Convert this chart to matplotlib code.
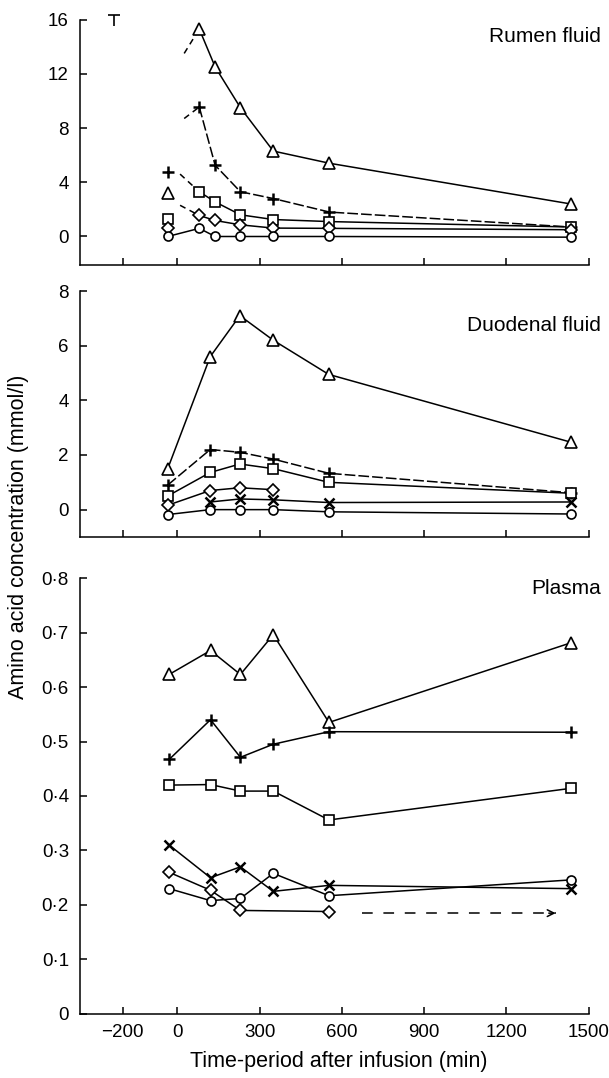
import matplotlib
matplotlib.use("Agg")
import matplotlib.pyplot as plt
from matplotlib.ticker import FuncFormatter

plt.rcParams["font.family"] = ["Liberation Sans", "DejaVu Sans"]
plt.rcParams["font.size"] = 13.5

# --- rumen fluid (mmol/l) ---
rumen_t = [-35, 80, 138, 230, 350, 555, 1435]
rumen_tri = [3.2, 15.3, 12.5, 9.5, 6.3, 5.4, 2.4]
rumen_plus = [4.75, 9.55, 5.25, 3.3, 2.8, 1.8, 0.7]
rumen_sq = [1.3, 3.3, 2.55, 1.6, 1.25, 1.1, 0.7]
rumen_dia = [0.64, 1.55, 1.18, 0.86, 0.62, 0.6, 0.5]
rumen_circ = [0.0, 0.6, 0.0, 0.0, 0.0, 0.0, -0.05]
# broken (dashed) lead-in to the 80 min point
rumen_lead_x = [25, 25, 10, 10]
rumen_lead_y = [13.5, 8.7, 4.6, 2.3]
# SE bar
se_x = -230
se_lo, se_hi = 15.5, 16.3

# --- duodenal fluid (mmol/l) ---
duo_t = [-35, 120, 228, 350, 552, 1435]
duo_tri = [1.5, 5.6, 7.1, 6.2, 4.95, 2.47]
duo_plus = [0.9, 2.2, 2.1, 1.85, 1.33, 0.62]
duo_sq = [0.5, 1.36, 1.67, 1.5, 1.0, 0.6]
duo_dia = [0.16, 0.7, 0.8, 0.73]
duo_x = [0.28, 0.39, 0.36, 0.26, 0.28]
duo_circ = [-0.18, 0.0, 0.0, 0.0, -0.08, -0.16]

# --- plasma (mmol/l) ---
pl_t = [-30, 121, 230, 350, 553, 1435]
pl_tri = [0.623, 0.667, 0.623, 0.696, 0.535, 0.681]
pl_plus = [0.467, 0.540, 0.471, 0.495, 0.518, 0.517]
pl_sq = [0.420, 0.421, 0.409, 0.409, 0.356, 0.414]
pl_x = [0.31, 0.25, 0.27, 0.225, 0.236, 0.23]
pl_dia_t = [-30, 121, 230, 553]
pl_dia = [0.26, 0.227, 0.19, 0.188]
pl_circ = [0.23, 0.208, 0.212, 0.258, 0.217, 0.246]
arrow_x = [675, 1380]
arrow_y = 0.185

mk = {
    "tri": dict(marker="^", ms=9),
    "plus": dict(marker="+", ms=9, mew=1.8),
    "sq": dict(marker="s", ms=6.5),
    "dia": dict(marker="D", ms=6.5),
    "circ": dict(marker="o", ms=6.5),
    "x": dict(marker="x", ms=7, mew=1.8),
}


def series(ax, t, y, kind, start=0, ls="-", dashes=None):
    # line (optionally from a later point on), then open markers on top
    line_kw = dict(color="black", lw=1.1, zorder=2)
    if dashes:
        line_kw["dashes"] = dashes
    ax.plot(t[start:], y[start:], ls=ls, **line_kw)
    ax.plot(t, y, ls="none", mfc="white", mec="black", color="black",
            mew=mk[kind].get("mew", 1.2), zorder=3,
            **{k: v for k, v in mk[kind].items() if k != "mew"})


fig = plt.figure(figsize=(6.09, 10.78), dpi=100)
left, width = 0.1314, 0.835
ax1 = fig.add_axes([left, 0.7542, width, 0.2277])
ax2 = fig.add_axes([left, 0.5019, width, 0.2281])
ax3 = fig.add_axes([left, 0.0594, width, 0.4044])

# rumen
series(ax1, rumen_t, rumen_tri, "tri", start=1)
series(ax1, rumen_t, rumen_plus, "plus", start=1, dashes=(7, 2))
series(ax1, rumen_t, rumen_sq, "sq", start=1)
series(ax1, rumen_t, rumen_dia, "dia", start=1)
series(ax1, rumen_t, rumen_circ, "circ")
for lx, ly, tgt in zip(rumen_lead_x, rumen_lead_y,
                       [rumen_tri, rumen_plus, rumen_sq, rumen_dia]):
    ax1.plot([lx, rumen_t[1]], [ly, tgt[1]], color="black", lw=1.1,
             dashes=(4, 3), zorder=1)
ax1.errorbar([se_x], [se_hi], yerr=[[se_hi - se_lo], [0]], fmt="none",
             ecolor="black", elinewidth=1.2, capsize=0, clip_on=False)
ax1.plot([se_x], [se_hi], marker="_", ms=8, mew=1.2, color="black",
         clip_on=False)
ax1.set_ylim(-2.1, 16)
ax1.set_yticks([0, 4, 8, 12, 16])
ax1.text(1.025, 0.93, "Rumen fluid", transform=ax1.transAxes, ha="right",
         va="center", fontsize=15)

# duodenal
series(ax2, duo_t, duo_tri, "tri")
series(ax2, duo_t, duo_plus, "plus", dashes=(7, 2))
series(ax2, duo_t, duo_sq, "sq")
series(ax2, duo_t[:4], duo_dia, "dia")
series(ax2, duo_t[1:], duo_x, "x")
series(ax2, duo_t, duo_circ, "circ")
ax2.set_ylim(-1.0, 8)
ax2.set_yticks([0, 2, 4, 6, 8])
ax2.text(1.025, 0.86, "Duodenal fluid", transform=ax2.transAxes, ha="right",
         va="center", fontsize=15)

# plasma
series(ax3, pl_t, pl_tri, "tri")
series(ax3, pl_t, pl_plus, "plus")
series(ax3, pl_t, pl_sq, "sq")
series(ax3, pl_t, pl_x, "x")
series(ax3, pl_dia_t, pl_dia, "dia")
series(ax3, pl_t, pl_circ, "circ")
ax3.plot(arrow_x, [arrow_y, arrow_y], color="black", lw=1.1, dashes=(7, 7))
ax3.annotate("", xy=(arrow_x[1], arrow_y), xytext=(arrow_x[1] - 25, arrow_y),
             arrowprops=dict(arrowstyle="->", lw=1.1, color="black",
                             shrinkA=0, shrinkB=0, mutation_scale=12))
ax3.set_ylim(0, 0.8)
ax3.set_yticks([0, 0.1, 0.2, 0.3, 0.4, 0.5, 0.6, 0.7, 0.8])
ax3.yaxis.set_major_formatter(FuncFormatter(
    lambda v, p: "0" if abs(v) < 1e-9 else f"{v:.1f}".replace(".", "\u00b7")))
ax3.text(1.025, 0.975, "Plasma", transform=ax3.transAxes, ha="right",
         va="center", fontsize=15)

xticks = [-200, 0, 300, 600, 900, 1200, 1500]
for ax in (ax1, ax2, ax3):
    ax.set_xlim(-355, 1500)
    ax.set_xticks(xticks)
    for s in ("top", "right"):
        ax.spines[s].set_visible(False)
    for s in ("left", "bottom"):
        ax.spines[s].set_linewidth(1.1)
    ax.tick_params(direction="in", length=5, width=1.1, labelsize=13.5)
    ax.tick_params(axis="y", pad=8)
    ax.tick_params(axis="x", pad=7)
ax1.tick_params(axis="x", labelbottom=False)
ax2.tick_params(axis="x", labelbottom=False)
ax3.set_xticklabels(["\u2212200", "0", "300", "600", "900", "1200", "1500"])

fig.text(0.557, 0.015, "Time-period after infusion (min)", ha="center",
         va="center", fontsize=15.5)
fig.text(0.03, 0.502, "Amino acid concentration (mmol/l)", rotation=90,
         ha="center", va="center", fontsize=15.5)

fig.savefig("out.png", dpi=100)
